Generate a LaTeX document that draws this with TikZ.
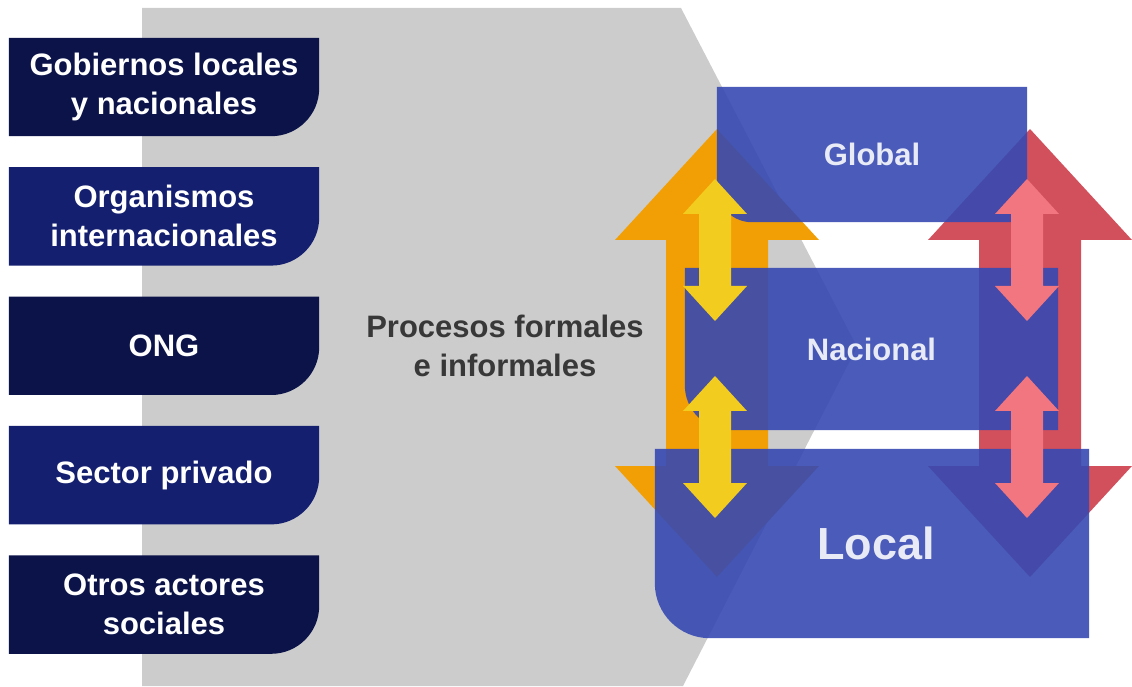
\documentclass[tikz,border=0pt]{standalone}
\usepackage{fontspec}
\setmainfont{Liberation Sans}
\usetikzlibrary{positioning,backgrounds}

\definecolor{graybg}{HTML}{CCCCCC}
\definecolor{navydark}{HTML}{0B1349}
\definecolor{navylight}{HTML}{141F6F}
\definecolor{levelblue}{HTML}{3649B2}
\definecolor{leveltext}{HTML}{E8EAF6}
\definecolor{flowtext}{HTML}{383838}
\definecolor{orangeflow}{HTML}{F29F05}
\definecolor{redflow}{HTML}{D2505C}
\definecolor{yellowflow}{HTML}{F2CC1E}
\definecolor{pinkflow}{HTML}{F2767F}

\begin{document}
\begin{tikzpicture}[
    x = 1pt, y = 1pt, % one unit = one pixel of the layout
    node distance = 31pt, % gap between actor boxes
    inner sep = 0pt
    ]

    \tikzset{
    actor/.style = {minimum width = 310pt, minimum height = 98pt, align = center,
      text = white, font = \fontsize{31}{39}\selectfont\bfseries},
    level/.style = {text = leveltext, font = \fontsize{31}{37}\selectfont\bfseries}
    }
    \useasboundingbox (0,0) rectangle (1132,686);

    \node[actor] (gob) at (164,599) {Gobiernos locales\\y nacionales};
    \node[actor] (org) [below=of gob] {Organismos\\internacionales};
    \node[actor] (ong) [below=of org] {ONG};
    \node[actor] (priv) [below=of ong] {Sector privado};
    \node[actor] (otros) [below=of priv] {Otros actores\\sociales};

    \node[align=center, text=flowtext, font=\fontsize{31}{39}\selectfont\bfseries]
      (proc) at (505,340) {Procesos formales\\e informales};

    \node[level, minimum width=310pt, minimum height=135pt] (glob) at (872,531.5) {Global};
    \node[level, minimum width=373pt, minimum height=162pt] (nac) at (871.5,337) {Nacional};
    \node[level, minimum width=434pt, minimum height=189pt, text width=434pt, align=center,
      font=\fontsize{45}{50}\selectfont\bfseries] (loc) at (872,142.5) {\hspace*{8pt}Local};

    \begin{scope}[on background layer]
    \fill[graybg] (142,0) -- (142,678) -- (681,678) -- (857,339) -- (683,0) -- cycle;
    \foreach \nd/\col in {gob/navydark, org/navylight, ong/navydark, priv/navylight, otros/navydark}
      \fill[\col] (\nd.north west) -- (\nd.north east) -- ([yshift=48pt]\nd.south east)
        arc[start angle=0, end angle=-90, radius=48pt] -- (\nd.south west) -- cycle;
    % big flows
    \foreach \xc/\col in {717/orangeflow, 1030/redflow}
      \fill[\col] (\xc,557) -- (\xc+102,446) -- (\xc+51,446) -- (\xc+51,220) -- (\xc+102,220)
        -- (\xc,109) -- (\xc-102,220) -- (\xc-51,220) -- (\xc-51,446) -- (\xc-102,446) -- cycle;
    \foreach \nd/\r in {glob/35pt, nac/45pt, loc/55pt}
      \fill[levelblue, fill opacity=0.9] (\nd.north west) -- (\nd.north east) -- (\nd.south east)
        -- ([xshift=\r]\nd.south west) arc[start angle=270, end angle=180, radius=\r] -- cycle;
    \end{scope}

    % exchanges between levels
    \foreach \xc/\col in {715/yellowflow, 1027/pinkflow}
      \foreach \ya/\yb in {507/365, 310/168}
        \fill[\col] (\xc,\ya) -- (\xc+32,\ya-35) -- (\xc+16,\ya-35) -- (\xc+16,\yb+35)
          -- (\xc+32,\yb+35) -- (\xc,\yb) -- (\xc-32,\yb+35) -- (\xc-16,\yb+35)
          -- (\xc-16,\ya-35) -- (\xc-32,\ya-35) -- cycle;
\end{tikzpicture}
\end{document}
